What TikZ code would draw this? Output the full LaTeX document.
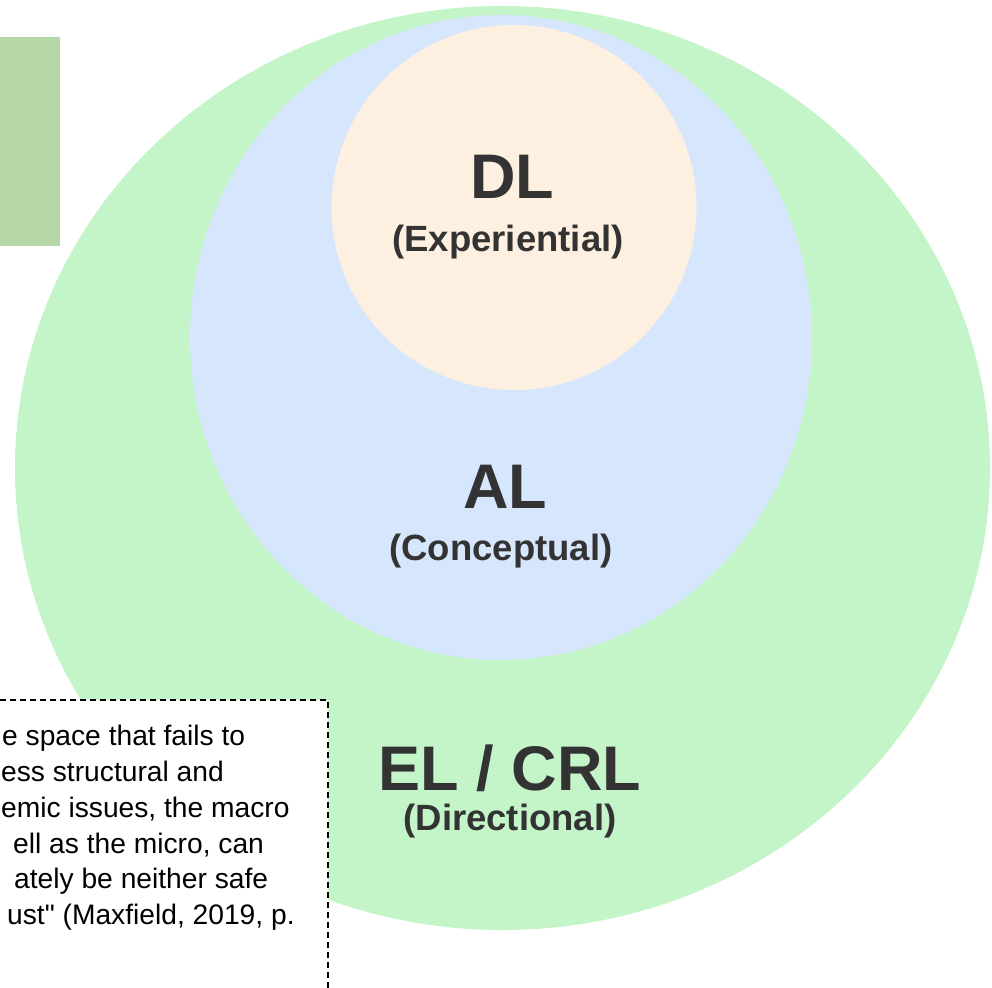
\documentclass[tikz,border=0pt]{standalone}
\usepackage{fontspec}
\setmainfont{Liberation Sans}[Ligatures=TeXOff]
\usepackage{tikz}
\usetikzlibrary{positioning}

\definecolor{outergreen}{HTML}{C3F5C8}
\definecolor{midblue}{HTML}{D6E6FC}
\definecolor{innerpeach}{HTML}{FEF0E0}
\definecolor{tabgreen}{HTML}{B6D7A8}
\definecolor{labelgray}{HTML}{333333}

\tikzset{
  ringname/.style = {font=\fontsize{63}{63}\selectfont\bfseries, text=labelgray, anchor=base, inner sep=0pt, text depth=0pt},
  ringsub/.style = {font=\fontsize{36.5}{36.5}\selectfont\bfseries, text=labelgray, anchor=base, inner sep=0pt},
  quoteline/.style = {font=\fontsize{28.2}{28.2}\selectfont, anchor=base west, inner sep=0pt},
  quotebox/.style = {draw=black, fill=white, line width=2pt, dash pattern=on 6pt off 4pt}
}

\begin{document}
\begin{tikzpicture}[x=1pt, y=-1pt]
        \useasboundingbox (0,0) rectangle (992,987);
        \clip (0,0) rectangle (992,987);
        
        \fill[outergreen] (502.5,468) ellipse [x radius=487.5pt, y radius=462pt];
        \fill[midblue] (501,337.5) ellipse [x radius=311pt, y radius=322.5pt];
        \fill[innerpeach] (514,207.5) circle [radius=182.5pt];
        
        \fill[tabgreen] (-5,37) rectangle (60,246);
        \draw[quotebox] (-10,700) rectangle (328,1000);
        
        \node[ringname] (dl) at (512,198) {DL};
        \node[ringsub] (dlsub) at (508,251) {(Experiential)};
        \node[ringname] (al) at (505,508) {AL};
        \node[ringsub] (alsub) at (501,560) {(Conceptual)};
        \node[ringname] (el) at (510,790) {EL / CRL};
        \node[ringsub] (elsub) at (510,830) {(Directional)};
        
        \node[quoteline] (q1) at (2,745) {e space that fails to};
        \node[quoteline] (q2) at (1,781) {ess structural and};
        \node[quoteline] (q3) at (1,817) {emic issues, the macro};
        \node[quoteline] (q4) at (13,853) {ell as the micro, can};
        \node[quoteline] (q5) at (14,888) {ately be neither safe};
        \node[quoteline] (q6) at (7,924) {ust" (Maxfield, 2019, p.};
\end{tikzpicture}
\end{document}
